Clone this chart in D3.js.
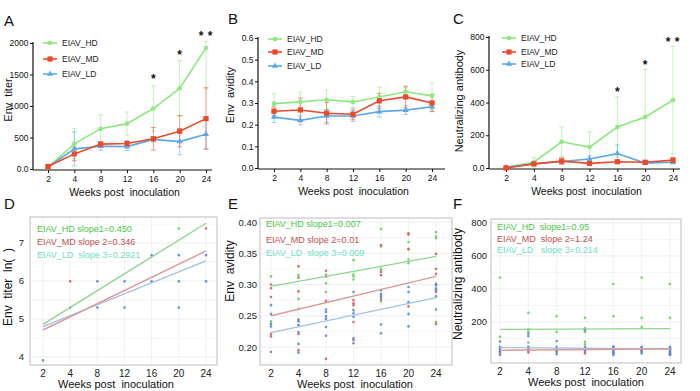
<!DOCTYPE html>
<html><head><meta charset="utf-8">
<script src="https://cdn.jsdelivr.net/npm/d3@7"></script>
<style>
body{margin:0;background:#fff}
svg{display:block}
text{font-family:"Liberation Sans",Arial,sans-serif;white-space:pre}
</style>
</head><body>
<svg id="c" width="700" height="391"></svg>
<script>
// ---------- DATA ----------
const weeks = ["2","4","8","12","16","20","24"];
const groups = ["EIAV_HD","EIAV_MD","EIAV_LD"];
const xTitle = "Weeks post  inoculation";

// Panel A: Env titer (mean ± SD)
const aHD = [30, 400, 640, 720, 960, 1280, 1920];
const aHDerr = [25, 240, 220, 185, 360, 440, 650];
const aMD = [40, 240, 395, 405, 480, 600, 800];
const aMDerr = [20, 110, 40, 40, 180, 250, 490];
const aLD = [30, 320, 360, 355, 470, 435, 550];
const aLDerr = [15, 270, 60, 60, 40, 210, 220];
const aTicks = [0, 500, 1000, 1500, 2000];
const aTickLabels = ["0.0", "500", "1000", "1500", "2000"];
const aStarWeeks = ["16", "20", "24"];
const aStarVals = [1460, 1840, 2140];
const aStarCount = [1, 1, 2];

// Panel B: Env avidity
const bHD = [0.297, 0.305, 0.315, 0.305, 0.328, 0.352, 0.333];
const bHDerr = [0.045, 0.045, 0.045, 0.025, 0.045, 0.02, 0.06];
const bMD = [0.262, 0.268, 0.253, 0.248, 0.310, 0.328, 0.300];
const bMDerr = [0.02, 0.055, 0.05, 0.025, 0.035, 0.05, 0.04];
const bLD = [0.235, 0.220, 0.240, 0.240, 0.260, 0.267, 0.283];
const bLDerr = [0.025, 0.02, 0.03, 0.025, 0.025, 0.02, 0.02];
const bTicks = [0, 0.1, 0.2, 0.3, 0.4, 0.5, 0.6];
const bTickLabels = ["0.0", "0.1", "0.2", "0.3", "0.4", "0.5", "0.6"];

// Panel C: Neutralizing antibody
const cHD = [5, 35, 160, 128, 250, 312, 415];
const cHDerr = [5, 30, 90, 92, 185, 290, 328];
const cMD = [0, 25, 42, 28, 38, 35, 48];
const cMDerr = [5, 10, 20, 10, 10, 10, 15];
const cLD = [5, 25, 40, 55, 88, 30, 35];
const cLDerr = [5, 10, 15, 20, 53, 10, 10];
const cTicks = [0, 200, 400, 600, 800];
const cTickLabels = ["0.0", "200", "400", "600", "800"];
const cStarWeeks = ["16", "20", "24"];
const cStarVals = [476, 641, 782];
const cStarCount = [1, 1, 2];

// Panel D: ln(Env titer) regression
const dLegend = ["EIAV_HD slope1=0.450", "EIAV_MD slope 2=0.346", "EIAV_LD  slope 3=0.2921"];
const dLineStart = [4.86, 4.71, 4.80];
const dLineEnd = [7.52, 6.79, 6.53];
const dHD = [[20, 7.38]];
const dMD = [[4, 5.99], [24, 7.38]];
const dLD = [[2, 3.91], [4, 5.30], [8, 5.30], [8, 5.99], [12, 5.30], [12, 5.99], [16, 5.99], [16, 6.68],
             [20, 5.30], [20, 5.99], [20, 6.68], [24, 5.99], [24, 6.68]];
const dTicks = [4, 5, 6, 7];

// Panel E: Env avidity regression
const eLegend = ["EIAV_HD slope1=0.007", "EIAV_MD slope 2=0.01", "EIAV_LD  slope 3=0.009"];
const eLineStart = [0.297, 0.250, 0.223];
const eLineEnd = [0.345, 0.313, 0.279];
const eHD = [[2,.313],[2,.241],[4,.315],[4,.277],[4,.261],[8,.316],[8,.302],[8,.288],[12,.339],[12,.316],[12,.313],[12,.308],
  [16,.389],[16,.361],[16,.325],[16,.323],[16,.273],[20,.368],[20,.356],[20,.340],[20,.334],[24,.384],[24,.377],[24,.374],[24,.240]];
const eMD = [[2,.300],[2,.294],[2,.280],[2,.221],[2,.217],[4,.329],[4,.311],[4,.289],[4,.221],[4,.195],[8,.322],[8,.313],[8,.274],[8,.181],
  [12,.275],[12,.270],[12,.267],[12,.240],[12,.211],[16,.363],[16,.320],[16,.315],[16,.276],[20,.382],[20,.380],[20,.357],[20,.265],
  [24,.349],[24,.325],[24,.317],[24,.288],[24,.237]];
const eLD = [[2,.267],[2,.253],[2,.237],[2,.233],[2,.192],[4,.244],[4,.241],[4,.235],[4,.224],[4,.205],[4,.191],
  [8,.260],[8,.256],[8,.249],[8,.245],[8,.232],[8,.218],[12,.288],[12,.259],[12,.254],[12,.248],[12,.214],[12,.206],
  [16,.291],[16,.285],[16,.282],[16,.279],[16,.236],[16,.222],[20,.296],[20,.288],[20,.272],[20,.253],[20,.233],
  [24,.301],[24,.299],[24,.294],[24,.291],[24,.281],[24,.260]];
const eTicks = [0.20, 0.25, 0.30, 0.35, 0.40];

// Panel F: Neutralizing antibody regression
const fLegend = ["EIAV_HD  slope1=0.95", "EIAV_MD  slope 2=1.24", "EIAV_LD   slope 3=0.214"];
const fLineStart = [155, 28, 45];
const fLineEnd = [160, 38, 36];
const fHD = [[2,470],[2,110],[4,255],[4,155],[4,140],[4,75],[4,45],[8,235],[8,140],[12,225],[12,140],[12,80],[12,65],
  [16,430],[16,235],[20,470],[20,225],[20,170],[24,430],[24,225]];
const fMD = [[2,25],[2,10],[4,25],[4,15],[8,20],[12,30],[12,10],[16,50],[16,30],[16,15],[20,40],[20,25],[24,40],[24,20],[24,5]];
const fLD = [[2,82],[2,50],[2,40],[2,30],[2,20],[2,0],[4,130],[4,115],[4,50],[4,40],[4,30],[8,85],[8,50],[8,40],[8,30],[8,20],[8,5],
  [12,160],[12,150],[12,50],[12,40],[12,30],[12,20],[16,50],[16,40],[16,30],[16,20],[16,10],[16,0],[20,50],[20,40],[20,30],[20,20],[20,10],
  [24,50],[24,40],[24,30],[24,20],[24,10],[24,0]];
const fTicks = [200, 400, 600, 800];

// ---------- STYLE ----------
const topColors = ["#8fe882", "#ea4a2a", "#5aa9e6"];
const ptColors = ["#5fcf5a", "#d65a55", "#4f82d6"];
const lineColors = ["#8ed68e", "#dc9a98", "#a6c2e2"];
const legColors = ["#49c949", "#c2524e", "#6de0c6"];
const FONT = '"Liberation Sans",Arial,sans-serif';

const svg = d3.select("#c");

function marker(g, type, cx, cy, color) {
  if (type === 0) g.append("circle").attr("cx", cx).attr("cy", cy).attr("r", 2.3).attr("fill", color);
  else if (type === 1) g.append("rect").attr("x", cx - 2.6).attr("y", cy - 2.6).attr("width", 5.2).attr("height", 5.2).attr("fill", color);
  else g.append("path").attr("d", d3.symbol(d3.symbolTriangle, 16)()).attr("transform", `translate(${cx},${cy})`).attr("fill", color);
}

function label(t, x, y) {
  svg.append("text").attr("x", x).attr("y", y).attr("font-size", 15).attr("fill", "#111").text(t);
}

function topPanel(cfg) {
  const x = d3.scalePoint().domain(weeks).range(cfg.xr);
  const y = d3.scaleLinear().domain(cfg.yd).range(cfg.yr);
  const g = svg.append("g");
  const y0 = cfg.yr[0] + 1;
  const gy = g.append("g").attr("transform", `translate(${cfg.ax},0)`)
    .call(d3.axisLeft(y).tickValues(cfg.ticks).tickFormat((d, i) => cfg.tickLabels[i]).tickSize(3).tickSizeOuter(0).tickPadding(1.5));
  gy.select(".domain").attr("stroke", "#111").attr("stroke-width", 1.2).attr("d", `M0,${y0}V${cfg.yr[1] - 1}`);
  gy.selectAll("text").attr("font-size", 8.5).attr("font-family", FONT).attr("fill", "#111");
  gy.selectAll("line").attr("stroke", "#111");
  const gx = g.append("g").attr("transform", `translate(0,${y0})`)
    .call(d3.axisBottom(x).tickSize(3).tickSizeOuter(0).tickPadding(3));
  gx.select(".domain").attr("stroke", "#111").attr("stroke-width", 1.2).attr("d", `M${cfg.ax},0H${cfg.xend}`);
  gx.selectAll("text").attr("font-size", 8.5).attr("font-family", FONT).attr("fill", "#111");
  gx.selectAll("line").attr("stroke", "#111");
  g.append("text").attr("x", (cfg.ax + cfg.xend) / 2 + 2).attr("y", y0 + 26).attr("text-anchor", "middle")
    .attr("font-size", 10.5).attr("fill", "#111").text(xTitle);
  g.append("text").attr("transform", `translate(${cfg.ytx},${cfg.ytc}) rotate(-90)`).attr("text-anchor", "middle")
    .attr("font-size", 11).attr("fill", "#111").text(cfg.ytitle);
  const top = cfg.yd[1] * 1.01;
  const order = [0, 2, 1];
  order.forEach(si => {
    const vals = cfg.series[si], errs = cfg.errs[si], col = topColors[si];
    const eg = g.append("g").attr("stroke", col).attr("stroke-opacity", 0.55).attr("stroke-width", 1);
    weeks.forEach((w, i) => {
      const hi = Math.min(vals[i] + errs[i], top), lo = Math.max(vals[i] - errs[i], cfg.yd[0]);
      const cx = x(w);
      eg.append("line").attr("x1", cx).attr("x2", cx).attr("y1", y(hi)).attr("y2", y(lo));
      eg.append("line").attr("x1", cx - 2.5).attr("x2", cx + 2.5).attr("y1", y(hi)).attr("y2", y(hi));
      eg.append("line").attr("x1", cx - 2.5).attr("x2", cx + 2.5).attr("y1", y(lo)).attr("y2", y(lo));
    });
  });
  order.forEach(si => {
    const vals = cfg.series[si], col = topColors[si];
    g.append("path").datum(vals).attr("fill", "none").attr("stroke", col).attr("stroke-width", 1.6)
      .attr("d", d3.line().x((d, i) => x(weeks[i])).y(d => y(d)));
    vals.forEach((v, i) => marker(g, si, x(weeks[i]), y(v), col));
  });
  if (cfg.starWeeks) {
    cfg.starWeeks.forEach((w, i) => {
      const n = cfg.starCount[i];
      const offs = n === 1 ? [0] : [-5, 4];
      offs.forEach(o => {
        g.append("text").attr("x", x(w) + o).attr("y", y(cfg.starVals[i]) + 6).attr("text-anchor", "middle")
          .attr("font-size", 12).attr("font-weight", "bold").attr("fill", "#111").text("*");
      });
    });
  }
  groups.forEach((name, i) => {
    const ly = cfg.ly[i];
    g.append("line").attr("x1", cfg.lx).attr("x2", cfg.lx + 14).attr("y1", ly).attr("y2", ly)
      .attr("stroke", topColors[i]).attr("stroke-width", 1.6);
    marker(g, i, cfg.lx + 7, ly, topColors[i]);
    g.append("text").attr("x", cfg.lx + 19).attr("y", ly + 3).attr("font-size", 8.5).attr("fill", "#222").text(name);
  });
}

function bottomPanel(cfg) {
  const x = d3.scalePoint().domain(weeks).range(cfg.xr);
  const y = d3.scaleLinear().domain(cfg.yd).range([cfg.box[3], cfg.box[1]]);
  const [L, T, R, B] = cfg.box;
  const g = svg.append("g");
  const minor = [];
  for (let i = 0; i < cfg.ticks.length - 1; i++) minor.push((cfg.ticks[i] + cfg.ticks[i + 1]) / 2);
  minor.push(cfg.ticks[cfg.ticks.length - 1] + (cfg.ticks[1] - cfg.ticks[0]) / 2);
  minor.push(cfg.ticks[0] - (cfg.ticks[1] - cfg.ticks[0]) / 2);
  minor.filter(v => y(v) > T && y(v) < B).forEach(v => {
    g.append("line").attr("x1", L).attr("x2", R).attr("y1", y(v)).attr("y2", y(v)).attr("stroke", "#f4f4f4").attr("stroke-width", 0.8);
  });
  cfg.ticks.forEach(v => {
    g.append("line").attr("x1", L).attr("x2", R).attr("y1", y(v)).attr("y2", y(v)).attr("stroke", "#ececec").attr("stroke-width", 0.9);
  });
  weeks.forEach(w => {
    g.append("line").attr("x1", x(w)).attr("x2", x(w)).attr("y1", T).attr("y2", B).attr("stroke", "#efefef").attr("stroke-width", 0.9);
  });
  g.append("rect").attr("x", L).attr("y", T).attr("width", R - L).attr("height", B - T)
    .attr("fill", "none").attr("stroke", "#c9c9c9").attr("stroke-width", 1.2);
  cfg.points.forEach((pts, si) => {
    pts.forEach(p => {
      g.append("circle").attr("cx", x(String(p[0]))).attr("cy", y(p[1])).attr("r", 1.3).attr("fill", ptColors[si]).attr("fill-opacity", 0.85);
    });
  });
  [2, 1, 0].forEach(si => {
    g.append("line").attr("x1", x(weeks[0])).attr("x2", x(weeks[weeks.length - 1]))
      .attr("y1", y(cfg.lineStart[si])).attr("y2", y(cfg.lineEnd[si]))
      .attr("stroke", lineColors[si]).attr("stroke-width", 1.4);
  });
  cfg.legend.forEach((t, i) => {
    g.append("text").attr("x", cfg.lx).attr("y", cfg.ly[i] + 3.5).attr("font-size", 9).attr("fill", legColors[i]).text(t);
  });
  cfg.ticks.forEach(v => {
    g.append("text").attr("x", L - cfg.tpad).attr("y", y(v) + 3.5).attr("text-anchor", "end")
      .attr("font-size", 9.5).attr("fill", "#222").text(cfg.tickFmt(v));
  });
  weeks.forEach(w => {
    g.append("text").attr("x", x(w)).attr("y", B + 12).attr("text-anchor", "middle")
      .attr("font-size", 10).attr("fill", "#222").text(w);
  });
  g.append("text").attr("x", cfg.xtc).attr("y", B + 23).attr("text-anchor", "middle")
    .attr("font-size", 11).attr("fill", "#111").text(xTitle);
  g.append("text").attr("transform", `translate(${cfg.ytx},${cfg.ytc}) rotate(-90)`).attr("text-anchor", "middle")
    .attr("font-size", 12).attr("fill", "#111").text(cfg.ytitle);
}

// ---------- DRAW ----------
label("A", 4, 26); label("B", 228, 24); label("C", 453, 24);
label("D", 4, 209); label("E", 228, 209); label("F", 453, 209);

topPanel({xr: [48, 206], xend: 212, ax: 33, yd: [0, 2000], yr: [169, 43], ticks: aTicks, tickLabels: aTickLabels,
  series: [aHD, aMD, aLD], errs: [aHDerr, aMDerr, aLDerr], ytitle: "Env  titer", ytx: 12, ytc: 100,
  starWeeks: aStarWeeks, starVals: aStarVals, starCount: aStarCount, lx: 43, ly: [43, 59, 74]});
topPanel({xr: [274, 432], xend: 445, ax: 258, yd: [0, 0.6], yr: [168, 38], ticks: bTicks, tickLabels: bTickLabels,
  series: [bHD, bMD, bLD], errs: [bHDerr, bMDerr, bLDerr], ytitle: "Env  avidity", ytx: 234, ytc: 95,
  lx: 268, ly: [39, 52, 66]});
topPanel({xr: [506, 673], xend: 680, ax: 489, yd: [0, 800], yr: [168, 37], ticks: cTicks, tickLabels: cTickLabels,
  series: [cHD, cMD, cLD], errs: [cHDerr, cMDerr, cLDerr], ytitle: "Neutralizing antibody", ytx: 463, ytc: 101,
  starWeeks: cStarWeeks, starVals: cStarVals, starCount: cStarCount, lx: 502, ly: [38, 52, 64]});

bottomPanel({box: [30, 217, 217, 365], xr: [43, 206], yd: [3.789, 7.684], ticks: dTicks, tickFmt: d => String(d), tpad: 6,
  points: [dHD, dMD, dLD], lineStart: dLineStart, lineEnd: dLineEnd, legend: dLegend, lx: 37, ly: [228, 241, 254],
  xtc: 116, ytx: 12, ytc: 287, ytitle: "Env  titer  ln(  )"});
bottomPanel({box: [260, 218, 452, 365], xr: [271, 436], yd: [0.1712, 0.4064], ticks: eTicks, tickFmt: d3.format(".2f"), tpad: 3,
  points: [eHD, eMD, eLD], lineStart: eLineStart, lineEnd: eLineEnd, legend: eLegend, lx: 266, ly: [223, 239, 252],
  xtc: 355, ytx: 234, ytc: 271, ytitle: "Env  avidity"});
bottomPanel({box: [491, 219, 681, 363], xr: [500, 670], yd: [-48.5, 824], ticks: fTicks, tickFmt: d => String(d), tpad: 4,
  points: [fHD, fMD, fLD], lineStart: fLineStart, lineEnd: fLineEnd, legend: fLegend, lx: 497, ly: [226, 238, 249],
  xtc: 586, ytx: 462, ytc: 284, ytitle: "Neutralizing antibody"});
</script>
</body></html>
